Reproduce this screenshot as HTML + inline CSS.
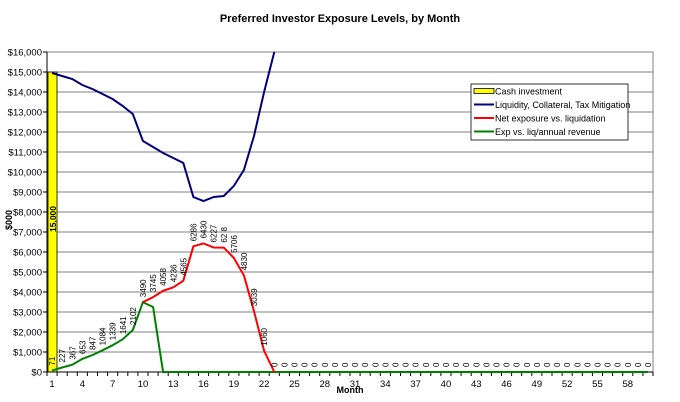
<!DOCTYPE html>
<html><head><meta charset="utf-8"><style>
body{margin:0;background:#fff;}
svg{display:block;font-family:"Liberation Sans",Arial,sans-serif;}
</style></head><body>
<svg id="c" width="680" height="402" xmlns="http://www.w3.org/2000/svg"></svg>
<script>
const s=document.getElementById('c');
let h='';
const L=47,R=653,T=52,B=372,W=(R-L)/60;
const X=i=>L+(i-0.5)*W, Y=v=>B-v*(B-T)/16000;
h+=`<text x="340" y="22" font-size="11" font-weight="bold" text-anchor="middle">Preferred Investor Exposure Levels, by Month</text>`;
for(let v=0;v<=16000;v+=1000){const y=Y(v);
 if(v>0)h+=`<line x1="${L}" x2="${R}" y1="${y}" y2="${y}" stroke="#808080" stroke-width="1"/>`;
 h+=`<line x1="${L-4}" x2="${L}" y1="${y}" y2="${y}" stroke="#000"/>`;
 h+=`<text x="${L-5}" y="${y+3.5}" font-size="9.5" text-anchor="end" fill="#000">$${v.toLocaleString('en-US')}</text>`;}
h+=`<line x1="${R}" x2="${R}" y1="${T}" y2="${B}" stroke="#808080"/>`;
h+=`<rect x="${L+1}" y="${Y(15000)}" width="9" height="${B-Y(15000)}" fill="#ffff00" stroke="#000" stroke-width="0.8"/>`;
h+=`<text transform="translate(56,232) rotate(-90)" font-size="8.5" font-weight="bold">15,000</text>`;
h+=`<text transform="translate(12,220) rotate(-90)" font-size="9" font-weight="bold" text-anchor="middle">$000</text>`;
h+=`<line x1="${L}" x2="${L}" y1="${T}" y2="${B}" stroke="#000"/>`;
h+=`<line x1="${L}" x2="${R}" y1="${B}" y2="${B}" stroke="#000"/>`;
for(let i=0;i<=60;i++){const x=L+i*W;h+=`<line x1="${x}" x2="${x}" y1="${B}" y2="${B+4}" stroke="#000"/>`;}
for(let i=1;i<=58;i+=3)h+=`<text x="${X(i)}" y="${B+15}" font-size="9.5" text-anchor="middle">${i}</text>`;
h+=`<text x="350" y="393" font-size="9" font-weight="bold" text-anchor="middle">Month</text>`;
const blue=[14950,14800,14650,14350,14150,13900,13650,13300,12900,11550,11250,10950,10700,10450,8750,8550,8750,8800,9300,10100,11800,14000,16000];
const red=[[10,3490],[11,3745],[12,4058],[13,4236],[14,4565],[15,6286],[16,6430],[17,6227],[18,6218],[19,5706],[20,4830],[21,3039],[22,1060],[23,0]];
const gv=[71,227,367,653,847,1084,1339,1641,2102,3490,3250,0];
const green=[];for(let i=1;i<=60;i++)green.push([i,i<=12?gv[i-1]:0]);
const pl=(pts,c)=>`<polyline fill="none" stroke="${c}" stroke-width="2" points="${pts.map(p=>X(p[0]).toFixed(1)+','+Y(p[1]).toFixed(1)).join(' ')}"/>`;
h+=pl(green,'#008000');
h+=pl(red,'#ff0000');
h+=pl(blue.map((v,i)=>[i+1,v]),'#000080');
const lab=(i,v,t)=>{h+=`<text transform="translate(${X(i)+3},${Y(v)-5}) rotate(-90)" font-size="8" fill="#000">${t}</text>`;};
for(let i=1;i<=9;i++)lab(i,gv[i-1],gv[i-1]);
red.slice(0,13).forEach(p=>lab(p[0],p[1],p[0]==18?'62 8':p[1]));
for(let i=23;i<=60;i++)lab(i,0,'0');
h+=`<rect x="471" y="84" width="157" height="56" fill="#fff" stroke="#000" stroke-width="0.8"/>`;
const lg=[['#ffff00','Cash investment',1],['#000080','Liquidity, Collateral, Tax Mitigation'],['#ff0000','Net exposure vs. liquidation'],['#008000','Exp vs. liq/annual revenue']];
lg.forEach((l,k)=>{const y=91+k*13.5;
 if(l[2])h+=`<rect x="474" y="${y-2.5}" width="20" height="5" fill="#ffff00" stroke="#000" stroke-width="0.8"/>`;
 else h+=`<line x1="474" x2="494" y1="${y}" y2="${y}" stroke="${l[0]}" stroke-width="2"/>`;
 h+=`<text x="495" y="${y+3.5}" font-size="9">${l[1]}</text>`;});
s.innerHTML=h;
</script>
</body></html>
